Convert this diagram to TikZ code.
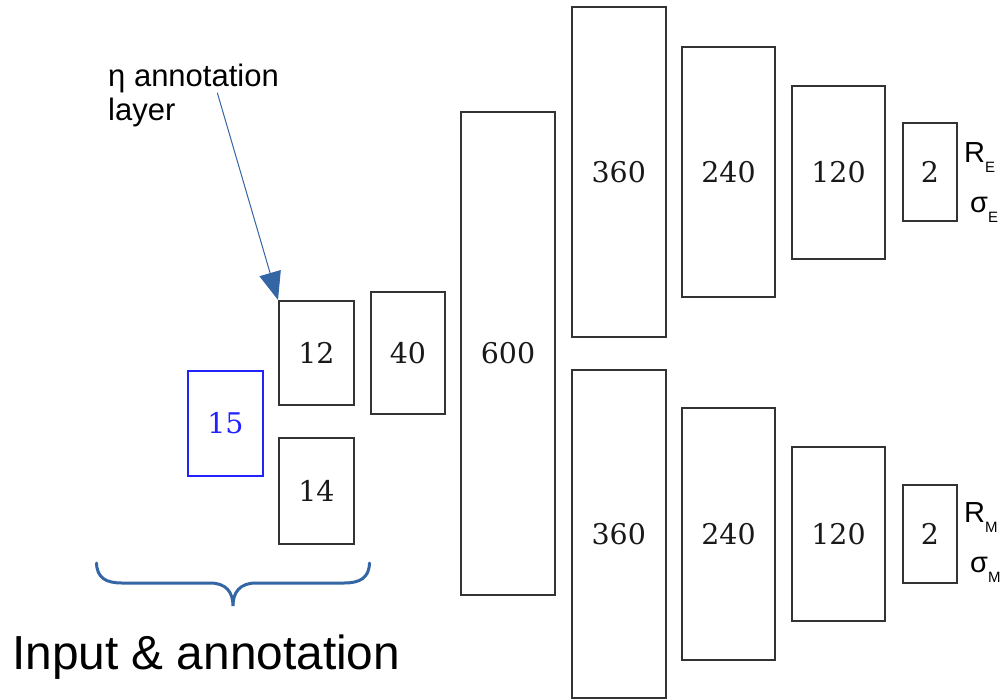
\documentclass[tikz,border=0pt]{standalone}
\usepackage{fontspec}
\setmainfont{Liberation Sans}
\newfontfamily\numfont{DejaVu Serif}
\usetikzlibrary{arrows.meta}
\definecolor{lblue}{HTML}{3465A4}
\definecolor{boxgray}{HTML}{333333}
\definecolor{inblue}{HTML}{2222FF}
\begin{document}
\begin{tikzpicture}[x=1pt,y=-1pt,
  layerbox/.style={draw=boxgray, line width=2pt, inner sep=0pt,
    font=\numfont\fontsize{28.5}{32}\selectfont, text=black!90},
  inbox/.style={layerbox, draw=inblue, line width=1.6pt, text=inblue},
  biglabel/.style={font=\fontsize{31}{36}\selectfont, inner sep=0pt},
  reslabel/.style={font=\fontsize{29}{34}\selectfont, inner sep=0pt},
]
\useasboundingbox (0,0) rectangle (1005,699);
% input & annotation
\node[inbox, minimum width=75pt, minimum height=105pt] (n15) at (225.5,423.5) {15};
\node[layerbox, minimum width=75pt, minimum height=104pt] (n12) at (316.5,353) {12};
\node[layerbox, minimum width=75pt, minimum height=106pt] (n14) at (316.5,491) {14};
% shared layers
\node[layerbox, minimum width=74pt, minimum height=122pt] (n40) at (408,353) {40};
\node[layerbox, minimum width=94pt, minimum height=483pt] (n600) at (508,353.5) {600};
% upper branch
\node[layerbox, minimum width=94pt, minimum height=330pt] (t360) at (618.8,172) {360};
\node[layerbox, minimum width=93pt, minimum height=250pt] (t240) at (728.5,172) {240};
\node[layerbox, minimum width=93pt, minimum height=173pt] (t120) at (838.5,172.5) {120};
\node[layerbox, minimum width=54pt, minimum height=98pt] (t2) at (930,172) {2};
% lower branch
\node[layerbox, minimum width=94pt, minimum height=328pt] (b360) at (618.8,534) {360};
\node[layerbox, minimum width=93pt, minimum height=252pt] (b240) at (728.5,534) {240};
\node[layerbox, minimum width=93pt, minimum height=174pt] (b120) at (838.5,534) {120};
\node[layerbox, minimum width=54pt, minimum height=98pt] (b2) at (930,534) {2};
% output labels
\node[reslabel, anchor=base west] (re) at (964,162) {R\raisebox{-10pt}{\fontsize{15}{15}\selectfont E}};
\node[reslabel, anchor=base west] (se) at (970,212) {σ\raisebox{-10pt}{\fontsize{15}{15}\selectfont E}};
\node[reslabel, anchor=base west] (rm) at (964,522) {R\raisebox{-10pt}{\fontsize{15}{15}\selectfont M}};
\node[reslabel, anchor=base west] (sm) at (970,572) {σ\raisebox{-10pt}{\fontsize{15}{15}\selectfont M}};
% annotation callout
\node[biglabel, anchor=base west] (ann1) at (108,86) {η annotation};
\node[biglabel, anchor=base west] (ann2) at (108,120) {layer};
\coordinate (annstart) at (217.3,92.7);
\draw[lblue, line width=1pt, -{Triangle[length=28pt,width=22pt]}] (annstart) -- (n12.north west);
% brace
\draw[lblue, line width=3pt, line cap=round]
  (96.5,563) .. controls (97,578) and (106,583) .. (122,583)
  -- (210,583) .. controls (226,583) and (233,592) .. (233,606)
  .. controls (233,592) and (240,583) .. (256,583)
  -- (344,583) .. controls (360,583) and (369,578) .. (369.5,563);
\node[anchor=base west, inner sep=0pt, font=\fontsize{47.8}{54}\selectfont] (inp) at (12,669) {Input \& annotation};
\end{tikzpicture}
\end{document}
